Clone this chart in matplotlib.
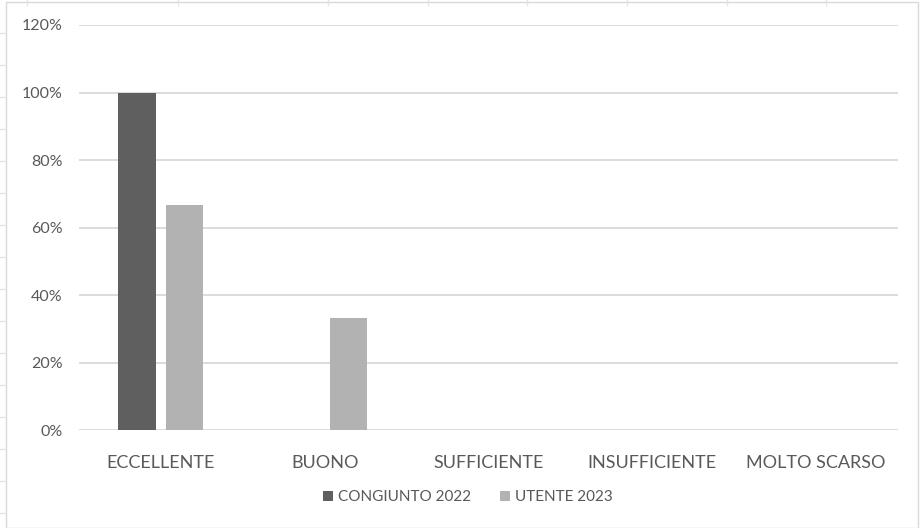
import numpy as np
import matplotlib.pyplot as plt
from matplotlib.patches import Rectangle
from matplotlib.ticker import FuncFormatter

categories = ["ECCELLENTE", "BUONO", "SUFFICIENTE", "INSUFFICIENTE", "MOLTO SCARSO"]
congiunto_2022 = [1.00, 0.0, 0.0, 0.0, 0.0]
utente_2023 = [0.667, 0.333, 0.0, 0.0, 0.0]
series_names = ["CONGIUNTO 2022", "UTENTE 2023"]

plt.rcParams["font.family"] = ["Lato", "DejaVu Sans"]
text_color = "#595959"

fig = plt.figure(figsize=(9.21, 5.28), dpi=100)
fig.patch.set_facecolor("white")

# faint spreadsheet cells behind the chart
for xv in [27, 178, 328, 428, 527, 627, 727, 826]:
    fig.add_artist(plt.Line2D([xv / 921, xv / 921], [1, 0.99], color="#e3e3e3", lw=1))
for yv in [33, 65, 97, 129, 161, 193, 225, 257, 289, 321, 353, 385, 417, 449, 481, 513]:
    fig.add_artist(plt.Line2D([0, 6 / 921], [1 - yv / 528, 1 - yv / 528], color="#e3e3e3", lw=1))
fig.add_artist(Rectangle((6 / 921, 0), 912 / 921, 1 - 2 / 528, transform=fig.transFigure,
                         fill=True, facecolor="white", edgecolor="#d9d9d9", lw=1, zorder=0))

ax = fig.add_axes([79 / 921, 1 - 430 / 528, 819 / 921, 405 / 528])
ax.set_facecolor("none")

x = np.arange(len(categories))
w = 0.23
ax.bar(x - 0.145, congiunto_2022, w, color="#5f5f5f", label=series_names[0], zorder=3)
ax.bar(x + 0.145, utente_2023, w, color="#b2b2b2", label=series_names[1], zorder=3)

ax.set_xlim(-0.5, len(categories) - 0.5)
ax.set_ylim(0, 1.2)
ax.set_yticks(np.arange(0, 1.21, 0.2))
ax.yaxis.set_major_formatter(FuncFormatter(lambda v, p: f"{v * 100:.0f}%"))
ax.grid(axis="y", color="#d9d9d9", lw=1.3, zorder=0)
for s in ax.spines.values():
    s.set_visible(False)
ax.tick_params(axis="both", length=0, colors=text_color)
ax.tick_params(axis="y", labelsize=11.5, pad=12)
ax.tick_params(axis="x", labelsize=13, pad=18)
ax.set_xticks(x)
ax.set_xticklabels(categories)

leg = fig.legend(loc="center", bbox_to_anchor=(468 / 921, 1 - 497 / 528), ncol=2, frameon=False,
                 fontsize=11, handlelength=0.65, handleheight=0.65, handletextpad=0.35, columnspacing=1.9)
for t in leg.get_texts():
    t.set_color(text_color)

plt.savefig("out.png", dpi=100)
